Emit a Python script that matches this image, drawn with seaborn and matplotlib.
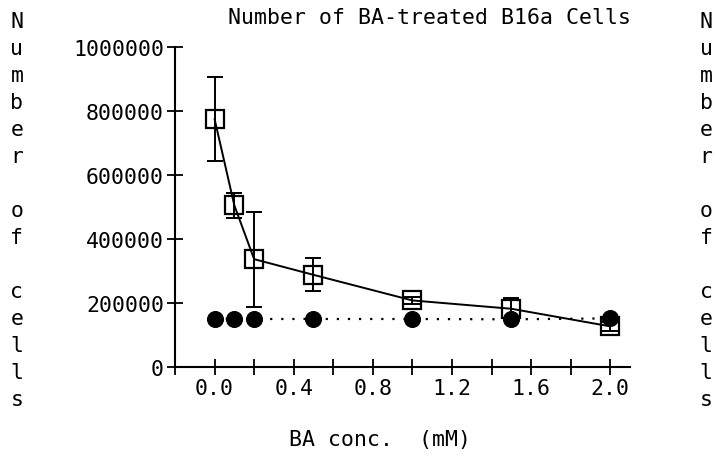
import matplotlib
matplotlib.use("Agg")
import matplotlib.pyplot as plt
import seaborn as sns
import pandas as pd
import numpy as np

# ---- data ----
conc = [0.0, 0.1, 0.2, 0.5, 1.0, 1.5, 2.0]
treated_mean = [775000, 505000, 337000, 288000, 208000, 182000, 127000]
treated_err = [130000, 38000, 148000, 52000, 12000, 33000, 15000]
control_mean = [150000, 150000, 150000, 150000, 150000, 149000, 152000]
xtick_vals = [0.0, 0.4, 0.8, 1.2, 1.6, 2.0]
xtick_labels = ["0.0", "0.4", "0.8", "1.2", "1.6", "2.0"]
ytick_vals = [0, 200000, 400000, 600000, 800000, 1000000]
title = "Number of BA-treated B16a Cells"
xlabel = "BA conc.  (mM)"
ylabel = "Number of cells"

sns.set_theme(style="white")
plt.rcParams['font.family'] = ['DejaVu Sans Mono']
plt.rcParams['text.color'] = 'black'
plt.rcParams['xtick.direction'] = 'inout'
plt.rcParams['ytick.direction'] = 'inout'
plt.rcParams['xtick.bottom'] = True
plt.rcParams['ytick.left'] = True
FS = 15.5

fig = plt.figure(figsize=(7.25, 4.6), dpi=100)
ax = fig.add_axes([175/725, 1-368/460, (630-175)/725, (368-48)/460])

df_t = pd.DataFrame({"conc": conc, "cells": treated_mean})
df_c = pd.DataFrame({"conc": conc, "cells": control_mean})

sns.lineplot(data=df_c, x="conc", y="cells", ax=ax, color="black",
             linestyle=(0, (1, 4)), linewidth=1.6, marker="o", markersize=11.5,
             markerfacecolor="black", markeredgecolor="black", zorder=2)
ax.errorbar(conc, treated_mean, yerr=treated_err, fmt="none", ecolor="black",
            elinewidth=1.4, capsize=6, capthick=1.4, zorder=3)
sns.lineplot(data=df_t, x="conc", y="cells", ax=ax, color="black",
             linewidth=1.4, marker="s", markersize=12.5,
             markerfacecolor="none", markeredgecolor="black",
             markeredgewidth=1.6, zorder=4)

ax.set_xlim(-0.2, 2.1)
ax.set_ylim(0, 1000000)
all_x = list(np.round(np.arange(-0.2, 2.01, 0.2), 1))
ax.set_xticks(all_x)
ax.set_xticklabels([xtick_labels[xtick_vals.index(v)] if v in xtick_vals else "" for v in all_x])
ax.set_yticks(ytick_vals)
ax.set_yticklabels([str(v) for v in ytick_vals])
ax.tick_params(axis="both", direction="inout", length=12, width=1.3,
               labelsize=FS, colors="black", pad=2, bottom=True, left=True)
for s in ["top", "right"]:
    ax.spines[s].set_visible(False)
for s in ["left", "bottom"]:
    ax.spines[s].set_color("black")
    ax.spines[s].set_linewidth(1.5)
ax.set_xlabel("")
ax.set_ylabel("")

fig.text(429/725, 1-18/460, title, ha="center", va="center", fontsize=FS, color="black")
fig.text(380/725, 1-440/460, xlabel, ha="center", va="center", fontsize=FS, color="black")

seq = []
for w_i, w in enumerate(ylabel.split(" ")):
    if w_i > 0:
        seq.append("")
    seq.extend(list(w))
n = len(seq)
for i, ch in enumerate(seq):
    ypix = 22 + i * (400 - 22) / (n - 1)
    if ch:
        fig.text(17/725, 1-ypix/460, ch, ha="center", va="center", fontsize=FS, color="black")
        fig.text(706/725, 1-ypix/460, ch, ha="center", va="center", fontsize=FS, color="black")

fig.savefig("out.png", dpi=100)
